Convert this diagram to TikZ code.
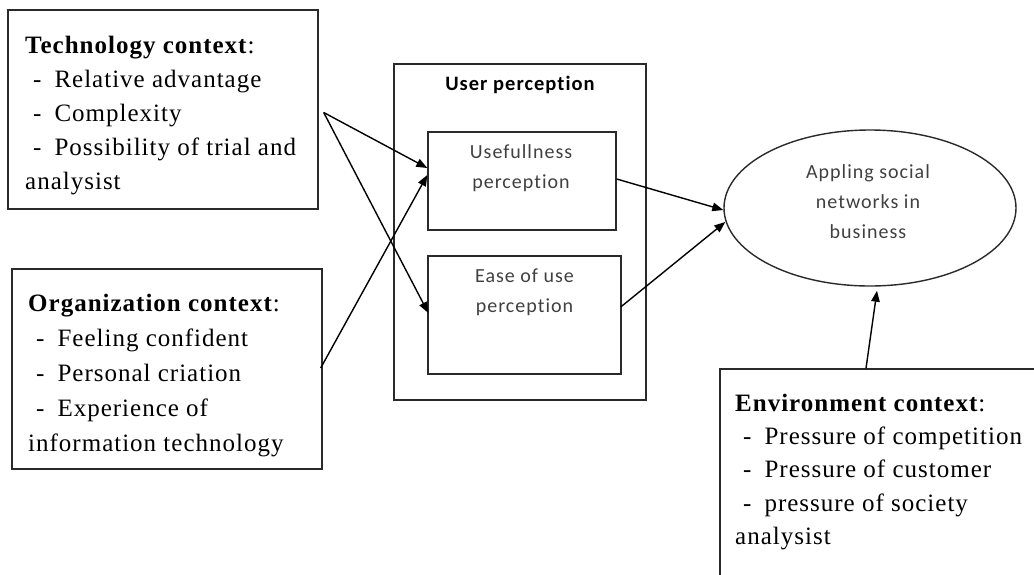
\documentclass[tikz,border=0pt]{standalone}
\usepackage{fontspec}
\setmainfont{Liberation Serif}[LetterSpace=4]
\newfontfamily\calfont{Carlito}[LetterSpace=5,Ligatures={NoCommon,NoRequired,NoContextual}]
\usetikzlibrary{arrows.meta,shapes.geometric,calc}
\definecolor{linec}{HTML}{2A2A2A}
\definecolor{txtgray}{HTML}{404040}
\tikzset{
  box/.style={draw=linec, line width=1.4pt, rectangle, inner sep=0pt},
  serif/.style={inner sep=0pt, align=left, anchor=west, font=\fontsize{25}{34}\selectfont},
  cal/.style={inner sep=0pt, align=center, font=\calfont\fontsize{20}{30}\selectfont, text=txtgray},
  arr/.style={draw=black, line width=1.4pt, -{Triangle[length=11pt,width=8.5pt]}},
}
\newcommand{\itm}[1]{\hspace*{8pt}-\hspace{13pt}#1}
\begin{document}
\begin{tikzpicture}[x=1pt,y=-1pt]
\useasboundingbox (0,0) rectangle (1034,574);
\clip (0,0) rectangle (1034,574);
% boxes
\node[box, minimum width=310pt, minimum height=199pt] (tech) at (163,109.5) {};
\node[box, minimum width=310pt, minimum height=200pt] (org) at (167,369) {};
\node[box, minimum width=252pt, minimum height=336pt] (up) at (520,232) {};
\node[box, minimum width=188pt, minimum height=98pt] (use) at (522,181) {};
\node[box, minimum width=193pt, minimum height=118pt] (ease) at (524.5,315) {};
\node[draw=linec, line width=1.4pt, ellipse, inner sep=0pt, minimum width=292pt, minimum height=156pt] (ell) at (870,208) {};
\node[box, minimum width=380pt, minimum height=271pt] (env) at (910,504.5) {};
% texts
\node[serif] (techtxt) at (25,116) {\textbf{Technology context}:\\ \itm{Relative advantage}\\ \itm{Complexity}\\ \itm{Possibility of trial and}\\ analysist};
\node[serif, font=\fontsize{25}{35}\selectfont] (orgtxt) at (28,376) {\textbf{Organization context}:\\ \itm{Feeling confident}\\ \itm{Personal criation}\\ \itm{Experience of}\\ information technology};
\node[serif, font=\fontsize{25}{33.3}\selectfont] (envtxt) at (735,472) {\textbf{Environment context}:\\ \itm{Pressure of competition}\\ \itm{Pressure of customer}\\ \itm{pressure of society}\\ analysist};
\node[cal, text=black, font=\calfont\bfseries\fontsize{20.5}{30}\selectfont] (uptxt) at (520,85) {User perception};
\node[cal] (usetxt) at (521,168) {Usefullness\\ perception};
\node[cal] (easetxt) at (524.5,292) {Ease of use\\ perception};
\node[cal] (elltxt) at (868,202) {Appling social\\ networks in\\ business};
% connectors
\coordinate (ts) at ([xshift=5pt,yshift=-3pt]tech.east);
\coordinate (es) at ([xshift=-44pt]env.north);
\draw[arr] (ts) -- ([yshift=13pt]use.west);
\draw[arr] (ts) -- ([xshift=1pt,yshift=2pt]ease.west);
\draw[arr] ([xshift=-2pt,yshift=1pt]org.east) -- ([yshift=6pt]use.west);
\draw[arr] ([yshift=2pt]use.east) -- ([yshift=-2pt]ell.west);
\draw[arr] ([xshift=-1pt,yshift=8pt]ease.east) -- ([xshift=2pt,yshift=-14pt]ell.west);
\draw[arr] (es) -- ([xshift=7pt,yshift=-4pt]ell.south);
\end{tikzpicture}
\end{document}
